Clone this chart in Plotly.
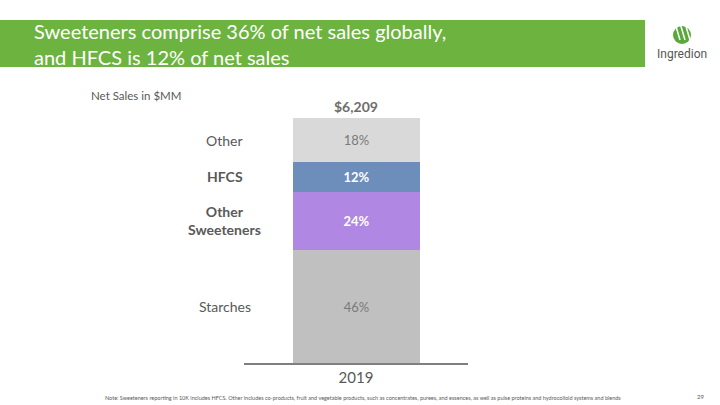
import plotly.graph_objects as go

# data
year = ["2019"]
segments = ["Starches", "Other Sweeteners", "HFCS", "Other"]
share = [46, 24, 12, 18]
seg_labels = ["Starches", "<b>Other<br>Sweeteners</b>", "<b>HFCS</b>", "Other"]
bar_text = ["46%", "<b>24%</b>", "<b>12%</b>", "18%"]
total_label = "$6,209"

colors = ["#c0c0c0", "#b088e3", "#6d8dbb", "#d9d9da"]
text_colors = ["#7a7a7a", "#ffffff", "#ffffff", "#7a7a7a"]

fig = go.Figure()
for name, val, txt, c, tc in zip(segments, share, bar_text, colors, text_colors):
    fig.add_trace(
        go.Bar(
            x=year,
            y=[val],
            name=name,
            text=[txt],
            textposition="inside",
            insidetextanchor="middle",
            textfont=dict(color=tc, size=13, family="Lato"),
            marker=dict(color=c, line=dict(width=0)),
            width=0.567,
            hoverinfo="skip",
        )
    )

# category labels on the left, at segment midpoints
base = 0
for lab, val in zip(seg_labels, share):
    fig.add_annotation(
        x=-0.085, xref="paper", y=base + val / 2, yref="y",
        text=lab, showarrow=False, xanchor="center", yanchor="middle",
        font=dict(size=14, color="#595959", family="Lato"),
    )
    base += val

# total on top of the bar
fig.add_annotation(
    x=0, xref="x", y=sum(share), yref="y", text="<b>" + total_label + "</b>",
    showarrow=False, yanchor="bottom", yshift=1,
    font=dict(size=14, color="#6d6d6d", family="Lato"),
)

# title banner
fig.add_shape(type="rect", xref="paper", yref="paper",
              x0=-244 / 224, x1=(645 - 244) / 224,
              y0=(363 - 20) / 245, y1=(363 - 67) / 245,
              fillcolor="#6db33f", line=dict(width=0), layer="below")
fig.add_annotation(
    x=(32 - 244) / 224, xref="paper", y=(363 - 44) / 245, yref="paper",
    text="Sweeteners comprise 36% of net sales globally,<br>and HFCS is 12% of net sales",
    showarrow=False, xanchor="left", yanchor="middle", align="left",
    font=dict(size=20, color="white", family="Lato"),
)

# logo (rough)
fig.add_shape(type="circle", xref="paper", yref="paper",
              x0=(673 - 244) / 224, x1=(691 - 244) / 224,
              y0=(363 - 44) / 245, y1=(363 - 26) / 245,
              fillcolor="#5aa83a", line=dict(width=0))
for dx in [0, 5, 10]:
    fig.add_shape(type="line", xref="paper", yref="paper",
                  x0=(675 + dx - 244) / 224, x1=(680 + dx - 244) / 224,
                  y0=(363 - 23) / 245, y1=(363 - 40) / 245,
                  line=dict(color="white", width=1.5))
fig.add_annotation(
    x=(682 - 244) / 224, xref="paper", y=(363 - 54) / 245, yref="paper",
    text="Ingredion", showarrow=False, xanchor="center", yanchor="middle",
    font=dict(size=12, color="#555555", family="Liberation Sans Narrow, Roboto"),
)

fig.add_annotation(
    x=(89 - 244) / 224, xref="paper", y=(363 - 95) / 245, yref="paper",
    text="Net Sales in $MM", showarrow=False, xanchor="left", yanchor="middle",
    font=dict(size=11.5, color="#595959", family="Lato"),
)

fig.add_annotation(
    x=(103 - 244) / 224, xref="paper", y=(363 - 398) / 245, yref="paper",
    text="Note: Sweeteners reporting in 10K includes HFCS. Other includes co-products, fruit and vegetable products, "
         "such as concentrates, purees, and essences, as well as pulse proteins and hydrocolloid systems and blends",
    showarrow=False, xanchor="left", yanchor="middle",
    font=dict(size=5.5, color="#595959", family="Lato"),
)
fig.add_annotation(
    x=(700 - 244) / 224, xref="paper", y=(363 - 396) / 245, yref="paper",
    text="29", showarrow=False, xanchor="center", yanchor="middle",
    font=dict(size=6, color="#595959", family="Lato"),
)

fig.update_layout(
    barmode="stack",
    width=720,
    height=405,
    margin=dict(l=244, r=252, t=118, b=42),
    plot_bgcolor="white",
    paper_bgcolor="white",
    showlegend=False,
    bargap=0,
)
fig.update_xaxes(
    type="category",
    showline=True, linecolor="#7f7f7f", linewidth=1.5, ticks="",
    tickfont=dict(size=15, color="#595959", family="Lato"),
    range=[-0.5, 0.5], fixedrange=True,
)
fig.update_yaxes(visible=False, range=[0, 100], showgrid=False)

fig.write_html("out.html", config={"displayModeBar": False},
               post_script="document.body.style.margin='0';")
